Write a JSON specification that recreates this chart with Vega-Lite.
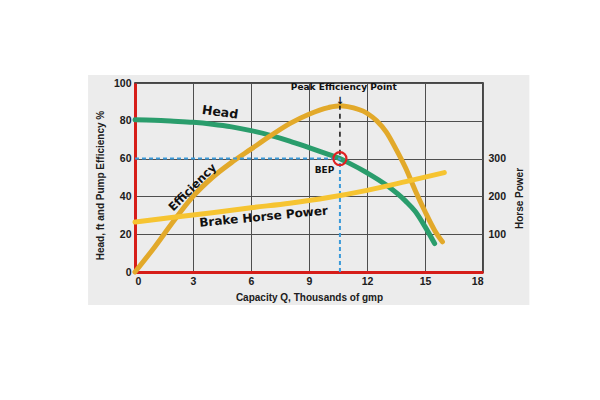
{
  "$schema": "https://vega.github.io/schema/vega-lite/v6.json",
  "width": 348,
  "height": 189,
  "autosize": {"type": "none"},
  "padding": {"left": 135, "top": 83, "right": 117, "bottom": 128},
  "background": "white",
  "datasets": {
    "curves": [
      {"q": 0, "v": 80.5, "curve": "Head"},
      {"q": 1, "v": 80.3, "curve": "Head"},
      {"q": 2, "v": 79.8, "curve": "Head"},
      {"q": 3, "v": 79.2, "curve": "Head"},
      {"q": 4, "v": 78.2, "curve": "Head"},
      {"q": 5, "v": 76.8, "curve": "Head"},
      {"q": 6, "v": 74.8, "curve": "Head"},
      {"q": 7, "v": 72.3, "curve": "Head"},
      {"q": 8, "v": 69.3, "curve": "Head"},
      {"q": 9, "v": 65.8, "curve": "Head"},
      {"q": 10, "v": 62.2, "curve": "Head"},
      {"q": 10.6, "v": 60, "curve": "Head"},
      {"q": 11, "v": 58, "curve": "Head"},
      {"q": 12, "v": 52.5, "curve": "Head"},
      {"q": 13, "v": 46, "curve": "Head"},
      {"q": 14, "v": 37.5, "curve": "Head"},
      {"q": 14.5, "v": 32, "curve": "Head"},
      {"q": 15, "v": 24, "curve": "Head"},
      {"q": 15.5, "v": 15, "curve": "Head"},
      {"q": 0, "v": 0, "curve": "Efficiency"},
      {"q": 1, "v": 13, "curve": "Efficiency"},
      {"q": 2, "v": 27, "curve": "Efficiency"},
      {"q": 3, "v": 40, "curve": "Efficiency"},
      {"q": 4, "v": 50, "curve": "Efficiency"},
      {"q": 5, "v": 58, "curve": "Efficiency"},
      {"q": 6, "v": 65, "curve": "Efficiency"},
      {"q": 7, "v": 72, "curve": "Efficiency"},
      {"q": 8, "v": 78.5, "curve": "Efficiency"},
      {"q": 9, "v": 83.5, "curve": "Efficiency"},
      {"q": 10, "v": 87, "curve": "Efficiency"},
      {"q": 10.6, "v": 88, "curve": "Efficiency"},
      {"q": 11, "v": 87.5, "curve": "Efficiency"},
      {"q": 12, "v": 84, "curve": "Efficiency"},
      {"q": 12.5, "v": 80, "curve": "Efficiency"},
      {"q": 13, "v": 74, "curve": "Efficiency"},
      {"q": 13.5, "v": 65, "curve": "Efficiency"},
      {"q": 14, "v": 55, "curve": "Efficiency"},
      {"q": 14.5, "v": 43, "curve": "Efficiency"},
      {"q": 15, "v": 32, "curve": "Efficiency"},
      {"q": 15.5, "v": 22, "curve": "Efficiency"},
      {"q": 15.9, "v": 16, "curve": "Efficiency"}
    ],
    "bhp": [
      {"q": 0, "hp": 132},
      {"q": 2, "hp": 145},
      {"q": 4, "hp": 157},
      {"q": 6, "hp": 170},
      {"q": 8, "hp": 182},
      {"q": 10, "hp": 197},
      {"q": 12, "hp": 216},
      {"q": 14, "hp": 239},
      {"q": 16, "hp": 263}
    ],
    "labels": [
      {"q": 4.4, "v": 84.5, "text": "Head"},
      {"q": 3.0, "v": 44.5, "text": "Efficiency"},
      {"q": 6.65, "v": 29.3, "text": "Brake Horse Power"},
      {"q": 10.8, "v": 97.8, "text": "Peak Efficiency Point"},
      {"q": 9.8, "v": 54, "text": "BEP"},
      {"q": 10.6, "v": 90.3, "text": "↓"}
    ]
  },
  "config": {
    "font": "Liberation Sans",
    "view": {"stroke": "#111", "strokeWidth": 1.5},
    "text": {"font": "DejaVu Sans", "fontWeight": "bold", "color": "#111"},
    "axis": {
      "labelFont": "Liberation Sans",
      "labelFontWeight": "bold",
      "labelFontSize": 10.5,
      "labelColor": "#222",
      "labelOverlap": false,
      "titleFont": "Liberation Sans",
      "titleFontWeight": "bold",
      "titleFontSize": 10,
      "titleColor": "#222",
      "ticks": false,
      "gridColor": "#555",
      "gridOpacity": 1,
      "gridWidth": 1
    }
  },
  "layer": [
    {
      "layer": [
        {
          "data": {"values": [{}]},
          "mark": {"type": "rect", "fill": "#000", "fillOpacity": 0.075, "clip": false},
          "encoding": {
            "x": {"datum": -2.43, "type": "quantitative"},
            "x2": {"datum": 20.4},
            "y": {"datum": -17.5, "type": "quantitative"},
            "y2": {"datum": 104.2}
          }
        },
        {
          "data": {"name": "curves"},
          "mark": {"type": "line", "strokeWidth": 5, "strokeCap": "round", "interpolate": "monotone"},
          "encoding": {
            "x": {
              "field": "q",
              "type": "quantitative",
              "scale": {"domain": [0, 18], "nice": false},
              "axis": {
                "values": [0, 3, 6, 9, 12, 15, 18],
                "grid": true,
                "title": "Capacity Q, Thousands of gmp",
                "domainColor": "#e8201c",
                "domainWidth": 3,
                "labelPadding": 4,
                "titlePadding": 6
              }
            },
            "y": {
              "field": "v",
              "type": "quantitative",
              "scale": {"domain": [0, 100], "nice": false},
              "axis": {
                "values": [0, 20, 40, 60, 80, 100],
                "tickCount": 6,
                "grid": true,
                "title": "Head, ft and Pump Efficiency %",
                "domainColor": "#e8201c",
                "domainWidth": 3,
                "labelPadding": 4,
                "titlePadding": 8,
                "titleY": 102
              }
            },
            "color": {
              "field": "curve",
              "type": "nominal",
              "scale": {"domain": ["Head", "Efficiency"], "range": ["#2a9d6c", "#e2a92a"]},
              "legend": null
            },
            "order": {"field": "q", "type": "quantitative"}
          }
        },
        {
          "data": {"values": [{}]},
          "mark": {"type": "rule", "color": "#3a9ad9", "strokeWidth": 2, "strokeDash": [4, 3]},
          "encoding": {
            "x": {"datum": 0},
            "x2": {"datum": 10.6},
            "y": {"datum": 60}
          }
        },
        {
          "data": {"values": [{}]},
          "mark": {"type": "rule", "color": "#3a9ad9", "strokeWidth": 2, "strokeDash": [4, 3]},
          "encoding": {
            "x": {"datum": 10.6},
            "y": {"datum": 0},
            "y2": {"datum": 60}
          }
        },
        {
          "data": {"values": [{}]},
          "mark": {"type": "rule", "color": "#111", "strokeWidth": 1.5, "strokeDash": [5, 4]},
          "encoding": {
            "x": {"datum": 10.6},
            "y": {"datum": 62},
            "y2": {"datum": 88}
          }
        },
        {
          "data": {"values": [{}]},
          "mark": {"type": "point", "shape": "circle", "filled": false, "color": "#e02020", "strokeWidth": 2.2, "size": 170, "opacity": 1},
          "encoding": {
            "x": {"datum": 10.6},
            "y": {"datum": 60}
          }
        },
        {
          "data": {"name": "labels"},
          "transform": [{"filter": "datum.text == 'Head'"}],
          "mark": {"type": "text", "fontSize": 12.5, "angle": 8},
          "encoding": {
            "x": {"field": "q", "type": "quantitative"},
            "y": {"field": "v", "type": "quantitative"},
            "text": {"field": "text"}
          }
        },
        {
          "data": {"name": "labels"},
          "transform": [{"filter": "datum.text == 'Efficiency'"}],
          "mark": {"type": "text", "fontSize": 11.5, "angle": -45},
          "encoding": {
            "x": {"field": "q", "type": "quantitative"},
            "y": {"field": "v", "type": "quantitative"},
            "text": {"field": "text"}
          }
        },
        {
          "data": {"name": "labels"},
          "transform": [{"filter": "datum.text == 'Brake Horse Power'"}],
          "mark": {"type": "text", "fontSize": 12, "angle": -5.5},
          "encoding": {
            "x": {"field": "q", "type": "quantitative"},
            "y": {"field": "v", "type": "quantitative"},
            "text": {"field": "text"}
          }
        },
        {
          "data": {"name": "labels"},
          "transform": [{"filter": "datum.text == 'Peak Efficiency Point' || datum.text == 'BEP'"}],
          "mark": {"type": "text", "fontSize": 9},
          "encoding": {
            "x": {"field": "q", "type": "quantitative"},
            "y": {"field": "v", "type": "quantitative"},
            "text": {"field": "text"}
          }
        },
        {
          "data": {"name": "labels"},
          "transform": [{"filter": "datum.text == '↓'"}],
          "mark": {"type": "text", "fontSize": 10},
          "encoding": {
            "x": {"field": "q", "type": "quantitative"},
            "y": {"field": "v", "type": "quantitative"},
            "text": {"field": "text"}
          }
        }
      ]
    },
    {
      "data": {"name": "bhp"},
      "mark": {"type": "line", "strokeWidth": 5, "strokeCap": "round", "interpolate": "monotone", "color": "#f6c431"},
      "encoding": {
        "x": {"field": "q", "type": "quantitative"},
        "y": {
          "field": "hp",
          "type": "quantitative",
          "scale": {"domain": [0, 500], "nice": false},
          "axis": {
            "orient": "right",
            "values": [100, 200, 300],
            "title": "Horse Power",
            "titleAngle": 270,
            "grid": false,
            "domain": false,
            "labelPadding": 5,
            "titlePadding": 19,
            "titleY": 115
          }
        }
      }
    }
  ],
  "resolve": {"scale": {"y": "independent"}}
}
